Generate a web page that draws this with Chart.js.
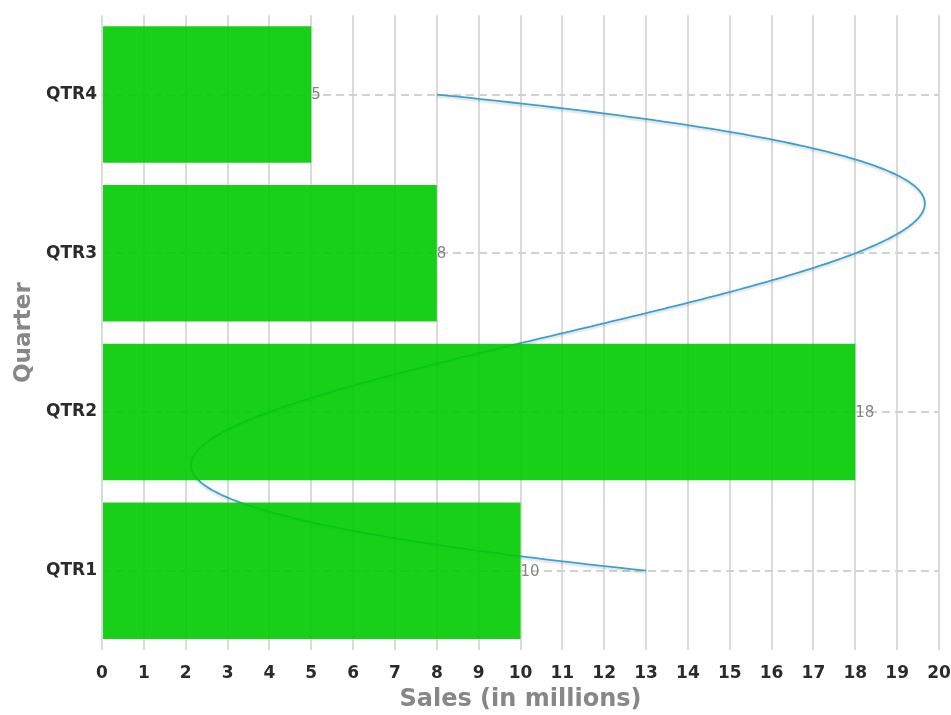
<!DOCTYPE html>
<html>
<head>
<meta charset="utf-8">
<script src="https://cdn.jsdelivr.net/npm/chart.js@4.4.1/dist/chart.umd.min.js"></script>
<style>
  html, body { margin: 0; padding: 0; background: #ffffff; }
  #wrap { width: 951px; height: 715px; position: relative; }
</style>
</head>
<body>
<div id="wrap"><canvas id="chart"></canvas></div>
<script>
// Quarterly sales (in millions)
const quarters = ['QTR1', 'QTR2', 'QTR3', 'QTR4'];
const salesBars = [10, 18, 8, 5];
const salesTrend = [13, 4, 18, 8];

// Value axis range
const salesMin = 0;
const salesMax = 20;
const salesStep = 1;

// Smooth trend: cubic through all points (parameter = category index), drawn under the bars
const smoothTrend = {
  id: 'smoothTrend',
  beforeDatasetsDraw(chart) {
    const ctx = chart.ctx;
    chart.data.datasets.forEach((ds, i) => {
      if (ds.type !== 'line') return;
      const meta = chart.getDatasetMeta(i);
      const pts = meta.data.map(p => ({ x: p.x, y: p.y }));
      const n = pts.length;
      const interp = (s, key) => {
        let sum = 0;
        for (let j = 0; j < n; j++) {
          let w = 1;
          for (let k = 0; k < n; k++) {
            if (k !== j) w *= (s - k) / (j - k);
          }
          sum += w * pts[j][key];
        }
        return sum;
      };
      const steps = 300;
      const area = chart.chartArea;
      ctx.save();
      ctx.beginPath();
      ctx.rect(area.left, area.top, area.right - area.left, area.bottom - area.top);
      ctx.clip();
      ctx.beginPath();
      for (let t = 0; t <= steps; t++) {
        const s = (t / steps) * (n - 1);
        const x = interp(s, 'x');
        const y = interp(s, 'y');
        if (t === 0) ctx.moveTo(x, y); else ctx.lineTo(x, y);
      }
      ctx.strokeStyle = ds.borderColor;
      ctx.lineWidth = ds.borderWidth;
      ctx.shadowColor = 'rgba(0,0,0,0.15)';
      ctx.shadowOffsetY = 2;
      ctx.shadowBlur = 2;
      ctx.stroke();
      ctx.restore();
    });
  }
};

// Value labels at the end of each bar
const barValueLabels = {
  id: 'barValueLabels',
  afterDatasetsDraw(chart) {
    const ctx = chart.ctx;
    chart.data.datasets.forEach((ds, i) => {
      if (ds.type !== 'bar') return;
      const meta = chart.getDatasetMeta(i);
      ctx.save();
      ctx.font = '15px "DejaVu Sans", sans-serif';
      ctx.fillStyle = '#858585';
      ctx.textAlign = 'left';
      ctx.textBaseline = 'middle';
      meta.data.forEach((bar, j) => {
        ctx.fillText(String(ds.data[j]), bar.x, bar.y + 1);
      });
      ctx.restore();
    });
  }
};

new Chart(document.getElementById('chart'), {
  type: 'bar',
  data: {
    labels: quarters,
    datasets: [
      {
        type: 'bar',
        label: 'Sales',
        data: salesBars,
        indexAxis: 'y',
        backgroundColor: 'rgba(0, 203, 0, 0.9)',
        borderWidth: 0,
        barPercentage: 0.86,
        categoryPercentage: 1.0,
        order: 1
      },
      {
        type: 'line',
        label: 'Trend',
        data: salesTrend,
        indexAxis: 'y',
        borderColor: '#3b9fd0',
        borderWidth: 1.8,
        showLine: false,
        pointRadius: 0,
        pointHoverRadius: 0,
        order: 2
      }
    ]
  },
  options: {
    indexAxis: 'y',
    responsive: true,
    maintainAspectRatio: false,
    animation: false,
    layout: { padding: { top: 14, left: 6, right: 12, bottom: 0 } },
    plugins: {
      legend: { display: false },
      tooltip: { enabled: false }
    },
    scales: {
      x: {
        type: 'linear',
        min: salesMin,
        max: salesMax,
        border: { display: false },
        grid: {
          color: '#dadada',
          lineWidth: 2,
          drawTicks: false
        },
        ticks: {
          stepSize: salesStep,
          padding: 13,
          color: '#2b2b2b',
          font: { family: '"DejaVu Sans", sans-serif', size: 17, weight: 'bold' },
          maxRotation: 0,
          autoSkip: false
        },
        title: {
          display: true,
          text: 'Sales (in millions)',
          color: '#878787',
          padding: { top: 3, bottom: 1 },
          font: { family: '"DejaVu Sans", sans-serif', size: 24, weight: 'bold' }
        },
        afterFit(scale) {
          scale.height = 65;
          scale.paddingRight = 0;
          scale.paddingLeft = 0;
        }
      },
      y: {
        type: 'category',
        reverse: true,
        offset: true,
        grid: {
          offset: false,
          color: '#d2d2d2',
          lineWidth: 2,
          drawTicks: false
        },
        border: { display: false, dash: [8, 5] },
        ticks: {
          padding: 5,
          color: '#2b2b2b',
          font: { family: '"DejaVu Sans", sans-serif', size: 17, weight: 'bold' }
        },
        title: {
          display: true,
          text: 'Quarter',
          color: '#878787',
          padding: { top: 4, bottom: 8 },
          font: { family: '"DejaVu Sans", sans-serif', size: 23, weight: 'bold' }
        },
        afterFit(scale) {
          scale.width = 96;
        }
      }
    }
  },
  plugins: [smoothTrend, barValueLabels]
});
</script>
</body>
</html>
